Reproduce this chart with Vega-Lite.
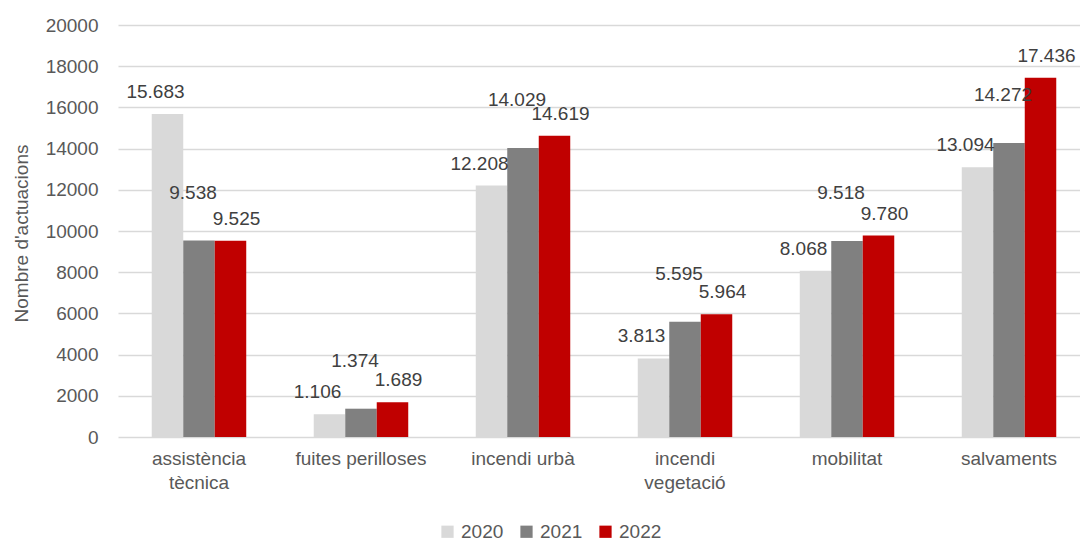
{
  "$schema": "https://vega.github.io/schema/vega-lite/v6.json",
  "width": 962,
  "height": 412,
  "autosize": {"type": "none"},
  "padding": {"left": 118, "top": 25, "right": 0, "bottom": 106},
  "config": {
    "font": "Liberation Sans",
    "view": {"stroke": null},
    "locale": {"number": {"decimal": ",", "thousands": ".", "grouping": [3], "currency": ["", " €"]}}
  },
  "data": {
    "values": [
      {"categoria": "assistència tècnica", "any": "2020", "valor": 15683},
      {"categoria": "assistència tècnica", "any": "2021", "valor": 9538},
      {"categoria": "assistència tècnica", "any": "2022", "valor": 9525},
      {"categoria": "fuites perilloses", "any": "2020", "valor": 1106},
      {"categoria": "fuites perilloses", "any": "2021", "valor": 1374},
      {"categoria": "fuites perilloses", "any": "2022", "valor": 1689},
      {"categoria": "incendi urbà", "any": "2020", "valor": 12208},
      {"categoria": "incendi urbà", "any": "2021", "valor": 14029},
      {"categoria": "incendi urbà", "any": "2022", "valor": 14619},
      {"categoria": "incendi vegetació", "any": "2020", "valor": 3813},
      {"categoria": "incendi vegetació", "any": "2021", "valor": 5595},
      {"categoria": "incendi vegetació", "any": "2022", "valor": 5964},
      {"categoria": "mobilitat", "any": "2020", "valor": 8068},
      {"categoria": "mobilitat", "any": "2021", "valor": 9518},
      {"categoria": "mobilitat", "any": "2022", "valor": 9780},
      {"categoria": "salvaments", "any": "2020", "valor": 13094},
      {"categoria": "salvaments", "any": "2021", "valor": 14272},
      {"categoria": "salvaments", "any": "2022", "valor": 17436}
    ]
  },
  "encoding": {
    "x": {
      "field": "categoria", "type": "nominal", "sort": null,
      "scale": {"range": [0, 972], "paddingInner": 0.4167, "paddingOuter": 0.2083},
      "axis": {
        "title": null, "domain": false, "ticks": false, "labelAngle": 0,
        "labelFontSize": 19, "labelColor": "#595959", "labelPadding": 12, "labelLineHeight": 24,
        "labelExpr": "datum.value == 'assistència tècnica' ? ['assistència', 'tècnica'] : datum.value == 'incendi vegetació' ? ['incendi', 'vegetació'] : datum.value"
      }
    },
    "xOffset": {"field": "any", "type": "nominal", "sort": ["2020", "2021", "2022"], "scale": {"paddingInner": 0}},
    "y": {
      "field": "valor", "type": "quantitative",
      "scale": {"domain": [0, 20000], "nice": false},
      "axis": {
        "title": "Nombre d'actuacions", "titleFontSize": 19, "titleFontWeight": "normal", "titleColor": "#595959",
        "titleX": -97, "titleY": 208, "titleAngle": -90, "titleBaseline": "middle", "titleAlign": "center",
        "values": [0, 2000, 4000, 6000, 8000, 10000, 12000, 14000, 16000, 18000, 20000],
        "format": "d", "domain": false, "ticks": false, "tickSize": 0, "labelPadding": 20,
        "labelFontSize": 19, "labelColor": "#595959",
        "gridColor": "#d9d9d9", "gridWidth": 1.5
      }
    }
  },
  "layer": [
    {
      "mark": {"type": "bar"},
      "encoding": {
        "color": {
          "field": "any", "type": "nominal",
          "scale": {"domain": ["2020", "2021", "2022"], "range": ["#d9d9d9", "#808080", "#c00000"]},
          "legend": {
            "title": null, "orient": "none", "direction": "horizontal", "legendX": 320, "legendY": 497,
            "symbolType": "square", "symbolSize": 150, "symbolStrokeWidth": 0,
            "labelFontSize": 19, "labelColor": "#595959", "labelOffset": 4, "columnPadding": 13
          }
        }
      }
    },
    {
      "transform": [{"filter": "datum.any == '2020'"}],
      "mark": {"type": "text", "dx": -12, "dy": -22, "fontSize": 19, "color": "#404040"},
      "encoding": {"text": {"field": "valor", "type": "quantitative", "format": ",d"}}
    },
    {
      "transform": [{"filter": "datum.any == '2021'"}],
      "mark": {"type": "text", "dx": -6, "dy": -48, "fontSize": 19, "color": "#404040"},
      "encoding": {"text": {"field": "valor", "type": "quantitative", "format": ",d"}}
    },
    {
      "transform": [{"filter": "datum.any == '2022'"}],
      "mark": {"type": "text", "dx": 6, "dy": -22, "fontSize": 19, "color": "#404040"},
      "encoding": {"text": {"field": "valor", "type": "quantitative", "format": ",d"}}
    }
  ]
}
